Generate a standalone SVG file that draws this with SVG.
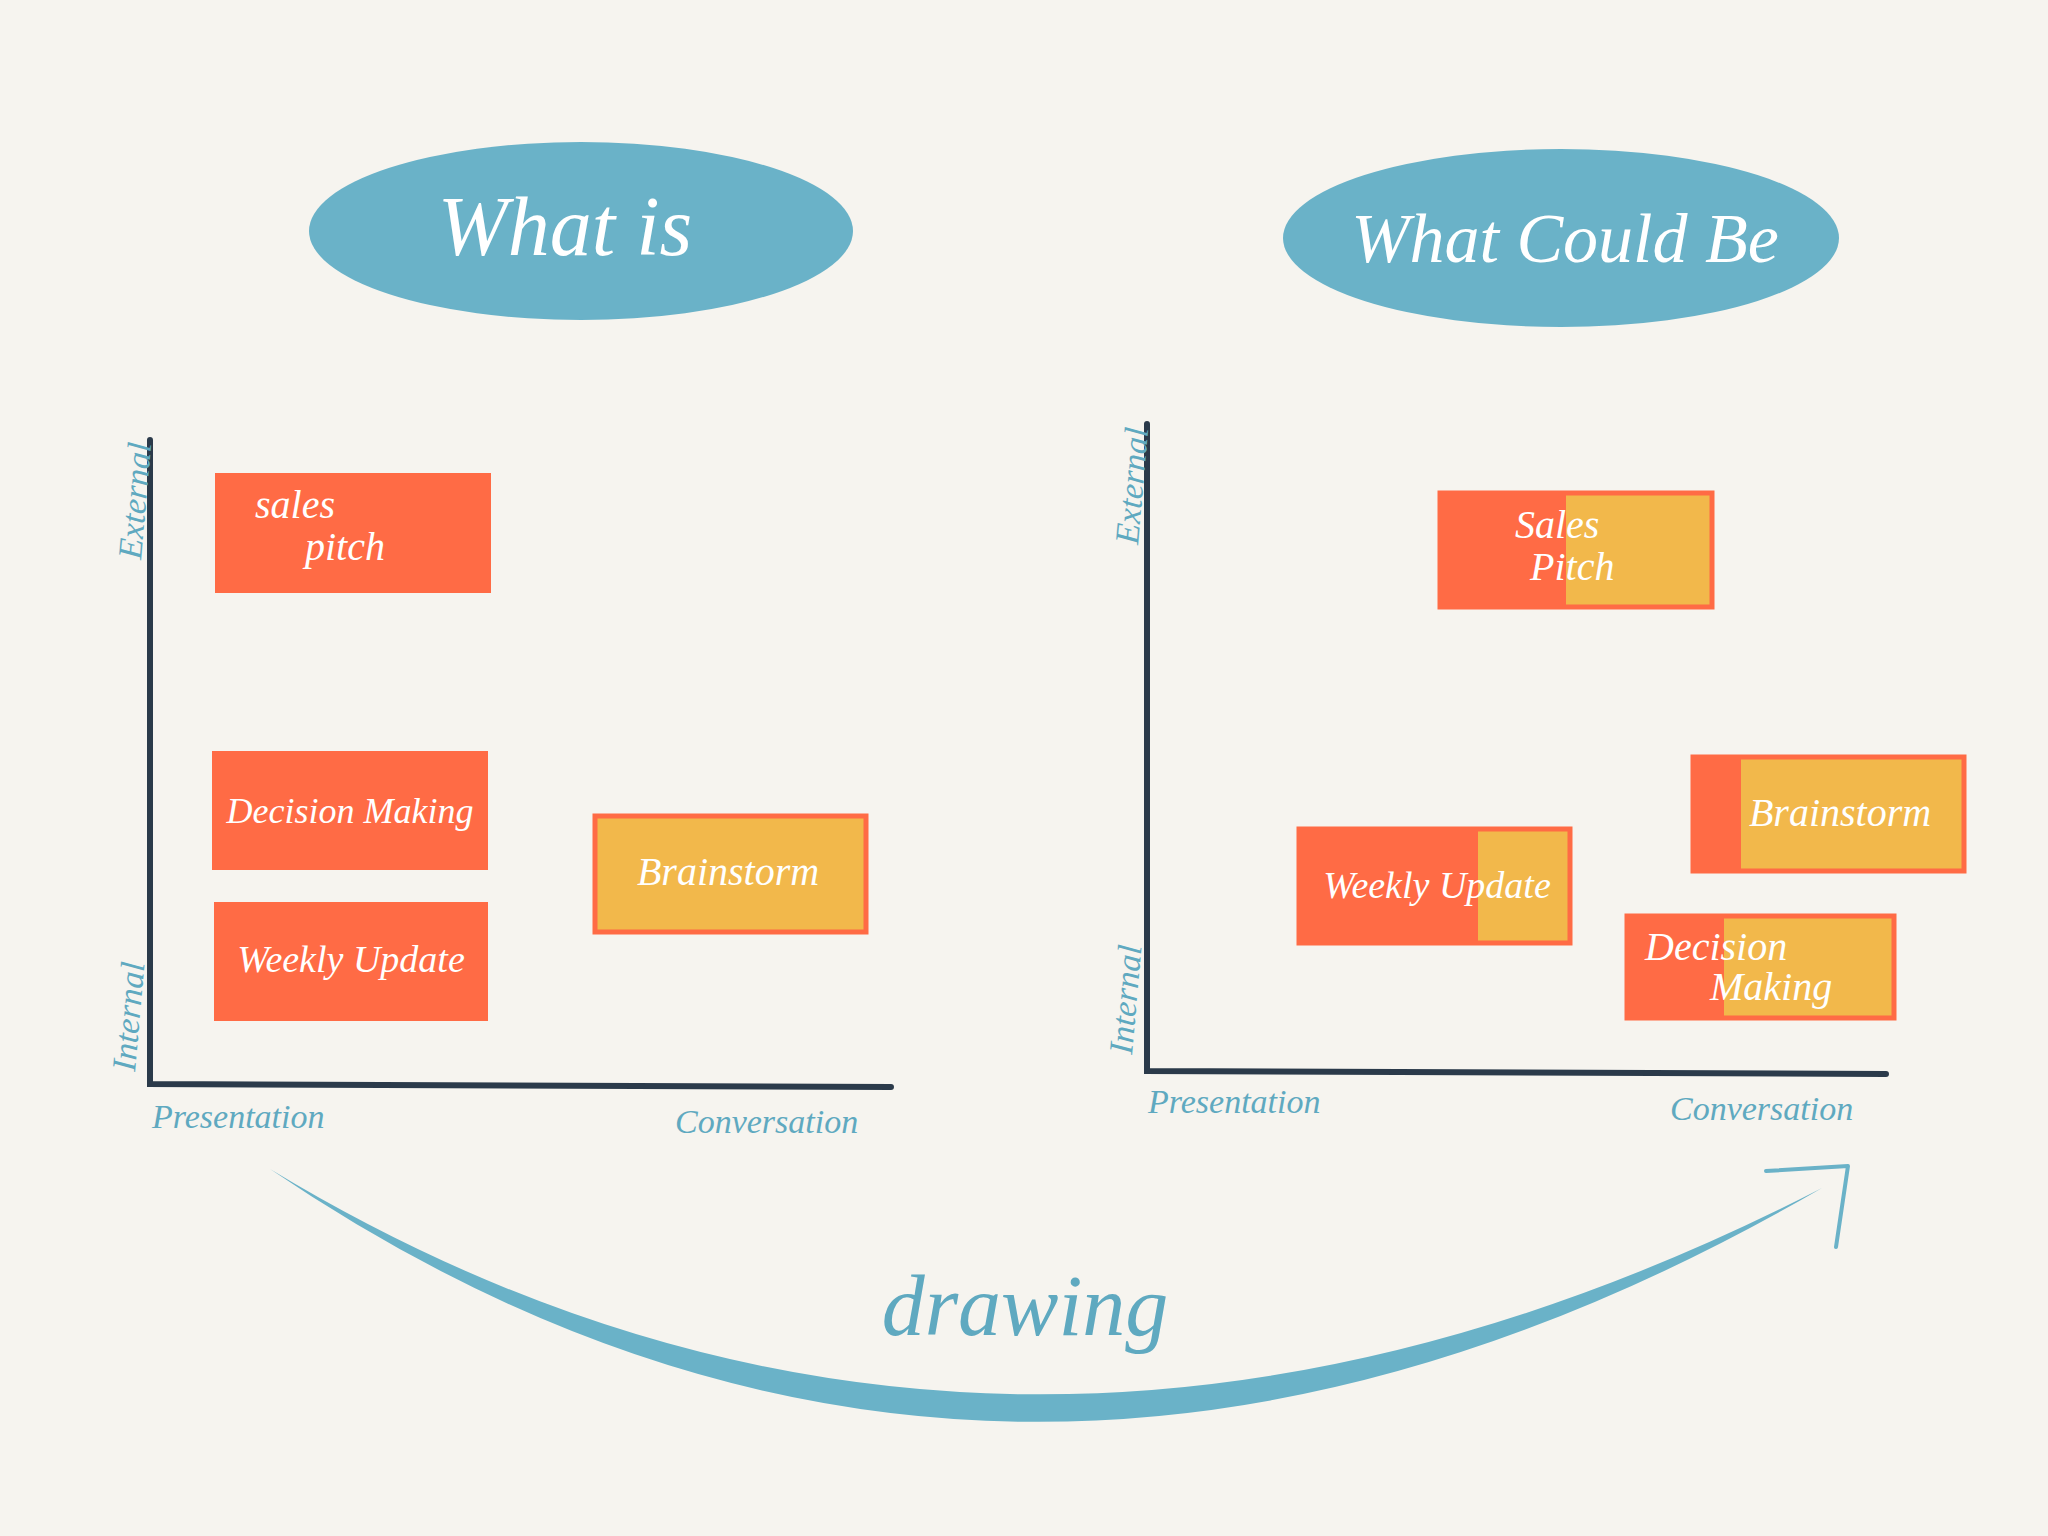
<svg xmlns="http://www.w3.org/2000/svg" width="2048" height="1536" viewBox="0 0 2048 1536">
<style>
.hand{font-family:"Liberation Serif",serif;font-style:italic}
.w{fill:#fff}
.lab{fill:#5fa9c0;font-size:34px}
.box{stroke:#ff6b45;stroke-width:5}
.axis{stroke:#2b3a4a;stroke-width:6;fill:none;stroke-linecap:round}
</style>
<rect width="2048" height="1536" fill="#f6f4ef"/>
<g id="title-left">
<ellipse cx="581" cy="231" rx="272" ry="89" fill="#6ab2c8"/>
<text x="565" y="255" text-anchor="middle" class="hand w" font-size="84">What is</text>
</g>
<g id="title-right">
<ellipse cx="1561" cy="238" rx="278" ry="89" fill="#6ab2c8"/>
<text x="1565" y="262" text-anchor="middle" class="hand w" font-size="70">What Could Be</text>
</g>
<g id="axes">
<path class="axis" d="M150,440 L150,1084 L891,1087"/>
<path class="axis" d="M1147,424 L1147,1071 L1886,1074"/>
<text class="hand lab" font-size="24" transform="translate(141,560) rotate(-85)">External</text>
<text class="hand lab" font-size="24" transform="translate(135,1072) rotate(-85)">Internal</text>
<text class="hand lab" font-size="24" transform="translate(1138,545) rotate(-85)">External</text>
<text class="hand lab" font-size="24" transform="translate(1132,1055) rotate(-85)">Internal</text>
<text class="hand lab" x="152" y="1128">Presentation</text>
<text class="hand lab" x="675" y="1133">Conversation</text>
<text class="hand lab" x="1148" y="1113">Presentation</text>
<text class="hand lab" x="1670" y="1120">Conversation</text>
</g>
<g id="left-sales-pitch">
<rect x="215" y="473" width="276" height="120" fill="#ff6b45"/>
<text x="255" y="518" class="hand w" font-size="40">sales</text>
<text x="305" y="560" class="hand w" font-size="40">pitch</text>
</g>
<g id="left-decision-making">
<rect x="212" y="751" width="276" height="119" fill="#ff6b45"/>
<text x="350" y="823" text-anchor="middle" class="hand w" font-size="36">Decision Making</text>
</g>
<g id="left-weekly-update">
<rect x="214" y="902" width="274" height="119" fill="#ff6b45"/>
<text x="351" y="972" text-anchor="middle" class="hand w" font-size="38">Weekly Update</text>
</g>
<g id="left-brainstorm">
<rect x="595" y="816" width="271" height="116" fill="#f2b84b" class="box"/>
<text x="728" y="885" text-anchor="middle" class="hand w" font-size="40">Brainstorm</text>
</g>
<g id="right-sales-pitch">
<rect x="1440" y="493" width="272" height="114" fill="#f2b84b" class="box"/>
<rect x="1440" y="493" width="126" height="114" fill="#ff6b45"/>
<text x="1515" y="538" class="hand w" font-size="40">Sales</text>
<text x="1530" y="580" class="hand w" font-size="40">Pitch</text>
</g>
<g id="right-weekly-update">
<rect x="1299" y="829" width="271" height="114" fill="#f2b84b" class="box"/>
<rect x="1299" y="829" width="179" height="114" fill="#ff6b45"/>
<text x="1437" y="898" text-anchor="middle" class="hand w" font-size="38">Weekly Update</text>
</g>
<g id="right-brainstorm">
<rect x="1693" y="757" width="271" height="114" fill="#f2b84b" class="box"/>
<rect x="1693" y="757" width="48" height="114" fill="#ff6b45"/>
<text x="1840" y="826" text-anchor="middle" class="hand w" font-size="40">Brainstorm</text>
</g>
<g id="right-decision-making">
<rect x="1627" y="916" width="267" height="102" fill="#f2b84b" class="box"/>
<rect x="1627" y="916" width="97" height="102" fill="#ff6b45"/>
<text x="1645" y="960" class="hand w" font-size="40">Decision</text>
<text x="1710" y="1000" class="hand w" font-size="40">Making</text>
</g>
<g id="connectors">
<path d="M270,1169 Q1000,1665 1822,1188 Q1000,1610 270,1169 Z" fill="#6ab2c8"/>
<path d="M1766,1171 L1848,1166 L1836,1247" fill="none" stroke="#6ab2c8" stroke-width="4" stroke-linecap="round" stroke-linejoin="round"/>
<text x="1025" y="1335" text-anchor="middle" class="hand" fill="#5fa9c0" font-size="86">drawing</text>
</g>
</svg>
